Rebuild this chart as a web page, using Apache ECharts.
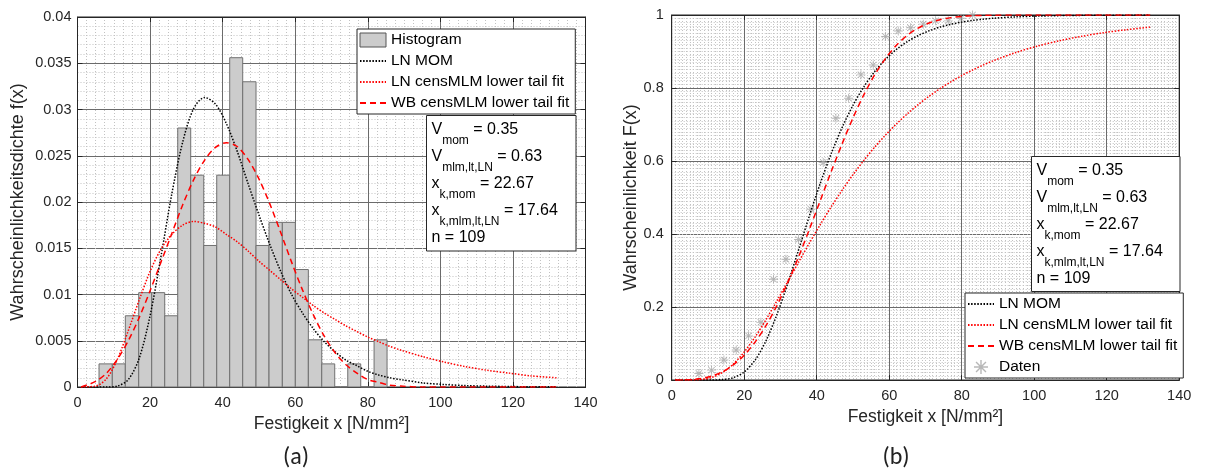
<!DOCTYPE html>
<html><head><meta charset="utf-8">
<script src="https://cdn.jsdelivr.net/npm/echarts@6/dist/echarts.min.js"></script>
<style>html,body{margin:0;padding:0;background:#fff}#c{width:1205px;height:470px}</style>
</head><body><div id="c"></div>
<script>
// ---------- data ----------
const binEdges = [5.93, 9.59, 13.18, 16.87, 20.45, 24.04, 27.62, 31.20, 34.79, 38.37, 41.95, 45.53, 49.20, 52.78, 56.45, 60.03, 63.62, 67.31, 70.89, 74.48, 78.06, 81.73, 85.31];
const histDensity = [0.0025, 0.0025, 0.0077, 0.0102, 0.0102, 0.0077, 0.0280, 0.0229, 0.0153, 0.0229, 0.0356, 0.0330, 0.0153, 0.0178, 0.0178, 0.0127, 0.0051, 0.0025, 0, 0.0025, 0, 0.0051];

const curveX = [1, 5, 8, 11, 14, 17, 20, 23, 26, 29, 32, 35, 38, 41, 44, 47, 50, 53, 56, 59, 62, 65, 68, 71, 74, 77, 80, 83, 86, 89, 95, 101, 107, 113, 119, 125, 132];
const pdfLnMom = [0, 0, 0, 0.0001, 0.0008, 0.0031, 0.0077, 0.0141, 0.0209, 0.0265, 0.0301, 0.0313, 0.0306, 0.0285, 0.0255, 0.0220, 0.0186, 0.0154, 0.0125, 0.0100, 0.0080, 0.0063, 0.0049, 0.0038, 0.0029, 0.0023, 0.0017, 0.0013, 0.0010, 0.0008, 0.00045, 0.00027, 0.00015, 0.00009, 0.00005, 0.00003, 0.00002];
const pdfLnCens = [0, 0.0001, 0.0009, 0.0030, 0.0061, 0.0094, 0.0125, 0.0149, 0.0165, 0.0175, 0.0179, 0.0177, 0.0173, 0.0165, 0.0157, 0.0147, 0.0136, 0.0126, 0.0116, 0.0106, 0.0097, 0.0088, 0.0080, 0.0073, 0.0066, 0.0060, 0.0054, 0.0049, 0.0044, 0.0040, 0.0033, 0.0027, 0.0022, 0.0018, 0.0015, 0.0012, 0.0010];
const pdfWbCens = [0, 0.0006, 0.0015, 0.0030, 0.0050, 0.0075, 0.0104, 0.0135, 0.0166, 0.0197, 0.0224, 0.0245, 0.0259, 0.0264, 0.0260, 0.0246, 0.0225, 0.0198, 0.0167, 0.0135, 0.0105, 0.0078, 0.0055, 0.0037, 0.0024, 0.0015, 0.0008, 0.0005, 0.0002, 0.0001, 0, 0, 0, 0, 0, 0, 0];

const cdfLnMom = [0, 0, 0, 0.0001, 0.0011, 0.0064, 0.0220, 0.0545, 0.1072, 0.1786, 0.2640, 0.3566, 0.4501, 0.5392, 0.6202, 0.6914, 0.7524, 0.8033, 0.8451, 0.8788, 0.9057, 0.9270, 0.9437, 0.9567, 0.9668, 0.9745, 0.9805, 0.9851, 0.9886, 0.9913, 0.9949, 0.9970, 0.9983, 0.9990, 0.9994, 0.9996, 0.9998];
const cdfLnCens = [0, 0.0001, 0.0013, 0.0069, 0.0204, 0.0437, 0.0767, 0.1178, 0.1650, 0.2162, 0.2693, 0.3228, 0.3754, 0.4261, 0.4744, 0.5199, 0.5623, 0.6017, 0.6380, 0.6712, 0.7016, 0.7293, 0.7545, 0.7774, 0.7981, 0.8169, 0.8340, 0.8493, 0.8632, 0.8758, 0.8974, 0.9151, 0.9296, 0.9415, 0.9512, 0.9592, 0.9668];
const cdfWbCens = [0, 0.0009, 0.0039, 0.0107, 0.0227, 0.0414, 0.0681, 0.1038, 0.1490, 0.2035, 0.2667, 0.3373, 0.4132, 0.4920, 0.5709, 0.6469, 0.7178, 0.7814, 0.8361, 0.8813, 0.9172, 0.9445, 0.9643, 0.9780, 0.9871, 0.9928, 0.9962, 0.9981, 0.9991, 0.9996, 0.9999, 1, 1, 1, 1, 1, 1];

const datenX = [7.5, 11.0, 14.4, 17.8, 21.2, 24.6, 28.1, 31.5, 35.0, 38.4, 41.8, 45.3, 48.8, 52.2, 55.6, 59.0, 62.5, 65.9, 69.4, 72.8, 76.3, 79.8, 83.0];
const datenF = [0.018, 0.027, 0.055, 0.082, 0.121, 0.158, 0.276, 0.331, 0.385, 0.468, 0.596, 0.717, 0.772, 0.836, 0.863, 0.941, 0.956, 0.965, 0.975, 0.984, 0.984, 0.991, 1.0];

const seriesNames = ['Histogram', 'LN MOM', 'LN censMLM lower tail fit', 'WB censMLM lower tail fit', 'Daten'];
const statLines = [
  ['V', 'mom', ' = 0.35'],
  ['V', 'mlm,lt,LN', ' = 0.63'],
  ['x', 'k,mom', ' = 22.67'],
  ['x', 'k,mlm,lt,LN', ' = 17.64'],
  ['n = 109', '', '']
];
const xAxisTitle = 'Festigkeit x [N/mm²]';
const yTitleA = 'Wahrscheinlichkeitsdichte f(x)';
const yTitleB = 'Wahrscheinlichkeit F(x)';
const panelLabels = ['(a)', '(b)'];

// ---------- chart ----------
const FONT = 'Liberation Sans, Arial, sans-serif';
const INK = '#262626';
const pairs = (xs, ys) => xs.map((x, i) => [x, ys[i]]);
const histData = histDensity.map((h, i) => [binEdges[i], binEdges[i + 1], h]);

const mctx = document.createElement('canvas').getContext('2d');
function textW(str, size) { mctx.font = size + 'px "Liberation Sans"'; return mctx.measureText(str).width; }

function mainX(gi, minorN, gap) {
  return {
    type: 'value', gridIndex: gi, min: 0, max: 140, interval: 20,
    name: xAxisTitle, nameLocation: 'middle', nameGap: gap,
    nameTextStyle: { fontFamily: FONT, fontSize: 17.5, color: INK },
    axisLine: { show: true, onZero: false, lineStyle: { color: INK, width: 1 } },
    axisTick: { show: true, inside: true, length: 5, lineStyle: { color: INK } },
    axisLabel: { fontFamily: FONT, fontSize: 14.5, color: INK, margin: 8 },
    splitLine: { show: true, lineStyle: { color: '#6b6b6b', width: 1 } },
    minorTick: { show: false, splitNumber: minorN },
    minorSplitLine: { show: true, lineStyle: { color: '#c2c2c2', width: 1, type: [1, 2] } }
  };
}
function mainY(gi, max, interval, minorN, title, gap, margin) {
  return {
    type: 'value', gridIndex: gi, min: 0, max: max, interval: interval,
    name: title, nameLocation: 'middle', nameGap: gap, nameRotate: 90,
    nameTextStyle: { fontFamily: FONT, fontSize: 18, color: INK },
    axisLine: { show: true, onZero: false, lineStyle: { color: INK, width: 1 } },
    axisTick: { show: true, inside: true, length: 5, lineStyle: { color: INK } },
    axisLabel: { fontFamily: FONT, fontSize: 14.5, color: INK, margin: margin },
    splitLine: { show: true, lineStyle: { color: '#6b6b6b', width: 1 } },
    minorTick: { show: false, splitNumber: minorN },
    minorSplitLine: { show: true, lineStyle: { color: '#c2c2c2', width: 1, type: [1, 2] } }
  };
}
function frameAxis(gi, pos, max, interval) {
  return {
    type: 'value', gridIndex: gi, position: pos, min: 0, max: max, interval: interval,
    axisLine: { show: true, onZero: false, lineStyle: { color: INK, width: 1 } },
    axisTick: { show: true, inside: true, length: 5, lineStyle: { color: INK } },
    axisLabel: { show: false }, splitLine: { show: false }
  };
}
function curve(name, gi, ys, color, dash, w) {
  return {
    type: 'line', name: name, xAxisIndex: gi, yAxisIndex: gi,
    data: pairs(curveX, ys), symbol: 'none', smooth: 0.3, silent: true,
    lineStyle: { color: color, type: dash, width: w }, itemStyle: { color: color }, z: 3
  };
}
const dotBlack = [1.5, 1.6], dotRed = [1.5, 1.6], dashRed = [6, 4];
const star = 'path://M9,0L11,0L11,20L9,20Z M0,9L20,9L20,11L0,11Z M2.2,3.6L3.6,2.2L17.8,16.4L16.4,17.8Z M16.4,2.2L17.8,3.6L3.6,17.8L2.2,16.4Z';

function legendBox(left, top, names) {
  return {
    orient: 'vertical', left: left, top: top, padding: [3, 6, 3, 2], itemGap: 5,
    itemWidth: 26, itemHeight: 14, selectedMode: false,
    backgroundColor: '#fff', borderColor: INK, borderWidth: 1, borderRadius: 0,
    textStyle: { fontFamily: FONT, fontSize: 15.5, color: '#000' },
    data: names.map(n => {
      if (n === 'Histogram') return { name: n, icon: 'rect', itemStyle: { color: '#cccccc', borderColor: '#555', borderWidth: 1 } };
      if (n === 'Daten') return n;
      return { name: n, itemStyle: { opacity: 0 } };
    }),
    z: 10
  };
}
function statBox(x, y, w, h) {
  const els = [{ type: 'rect', z: 20, shape: { x: x, y: y, width: w, height: h },
    style: { fill: '#fff', stroke: INK, lineWidth: 1 } }];
  let top = y + 5.5;
  statLines.forEach(l => {
    let cx = x + 5;
    els.push({ type: 'text', z: 21, x: cx, y: top + 9,
      style: { text: l[0], fontFamily: FONT, fontSize: 16, fill: '#000', verticalAlign: 'middle' } });
    if (l[1]) {
      cx += textW(l[0], 16);
      els.push({ type: 'text', z: 21, x: cx, y: top + 20,
        style: { text: l[1], fontFamily: FONT, fontSize: 12, fill: '#000', verticalAlign: 'middle' } });
      cx += textW(l[1], 12);
      els.push({ type: 'text', z: 21, x: cx, y: top + 9,
        style: { text: l[2], fontFamily: FONT, fontSize: 16, fill: '#000', verticalAlign: 'middle' } });
      top += 27;
    } else {
      top += 24;
    }
  });
  return els;
}

const chart = echarts.init(document.getElementById('c'), null, { renderer: 'canvas' });
chart.setOption({
  animation: false,
  backgroundColor: '#fff',
  grid: [
    { left: 77.5, top: 17, width: 508, height: 370, show: true, backgroundColor: '#fff', borderColor: INK, borderWidth: 1 },
    { left: 671.7, top: 15, width: 507.5, height: 365, show: true, backgroundColor: '#fff', borderColor: INK, borderWidth: 1 }
  ],
  xAxis: [mainX(0, 8, 28), mainX(1, 20, 28), frameAxis(0, 'top', 140, 20), frameAxis(1, 'top', 140, 20)],
  yAxis: [mainY(0, 0.04, 0.005, 5, yTitleA, 50, 6), mainY(1, 1, 0.2, 20, yTitleB, 30.5, 8),
          frameAxis(0, 'right', 0.04, 0.005), frameAxis(1, 'right', 1, 0.2)],
  legend: [legendBox(357, 29, seriesNames.slice(0, 4)), legendBox(965, 293, seriesNames.slice(1))],
  series: [
    {
      type: 'custom', name: seriesNames[0], xAxisIndex: 0, yAxisIndex: 0, data: histData,
      encode: { x: [0, 1], y: 2 }, itemStyle: { color: '#cccccc' }, z: 2, silent: true,
      renderItem: function (params, api) {
        const p0 = api.coord([api.value(0), api.value(2)]);
        const p1 = api.coord([api.value(1), 0]);
        return { type: 'rect', shape: { x: p0[0], y: p0[1], width: p1[0] - p0[0], height: p1[1] - p0[1] },
          style: { fill: '#cccccc', stroke: '#707070', lineWidth: 1 } };
      }
    },
    curve(seriesNames[1], 0, pdfLnMom, '#000', dotBlack, 1.5),
    curve(seriesNames[2], 0, pdfLnCens, '#ff0000', dotRed, 1.5),
    curve(seriesNames[3], 0, pdfWbCens, '#ff0000', dashRed, 1.5),
    {
      type: 'scatter', name: seriesNames[4], xAxisIndex: 1, yAxisIndex: 1, data: pairs(datenX, datenF),
      symbol: star, symbolSize: 9, itemStyle: { color: '#a6a6a6' }, z: 2, silent: true
    },
    curve(seriesNames[1], 1, cdfLnMom, '#000', dotBlack, 1.5),
    curve(seriesNames[2], 1, cdfLnCens, '#ff0000', dotRed, 1.5),
    curve(seriesNames[3], 1, cdfWbCens, '#ff0000', dashRed, 1.5)
  ],
  graphic: [
    ...statBox(426.5, 115.5, 149.5, 135.5),
    ...statBox(1031.5, 156.5, 148.5, 135),
    { type: 'text', x: 296, y: 458, z: 20, style: { text: panelLabels[0], fontFamily: 'Carlito, Lato, sans-serif', fontSize: 24, fill: '#222', align: 'center', verticalAlign: 'middle' } },
    { type: 'text', x: 896, y: 458, z: 20, style: { text: panelLabels[1], fontFamily: 'Carlito, Lato, sans-serif', fontSize: 24, fill: '#222', align: 'center', verticalAlign: 'middle' } }
  ]
});
</script></body></html>
